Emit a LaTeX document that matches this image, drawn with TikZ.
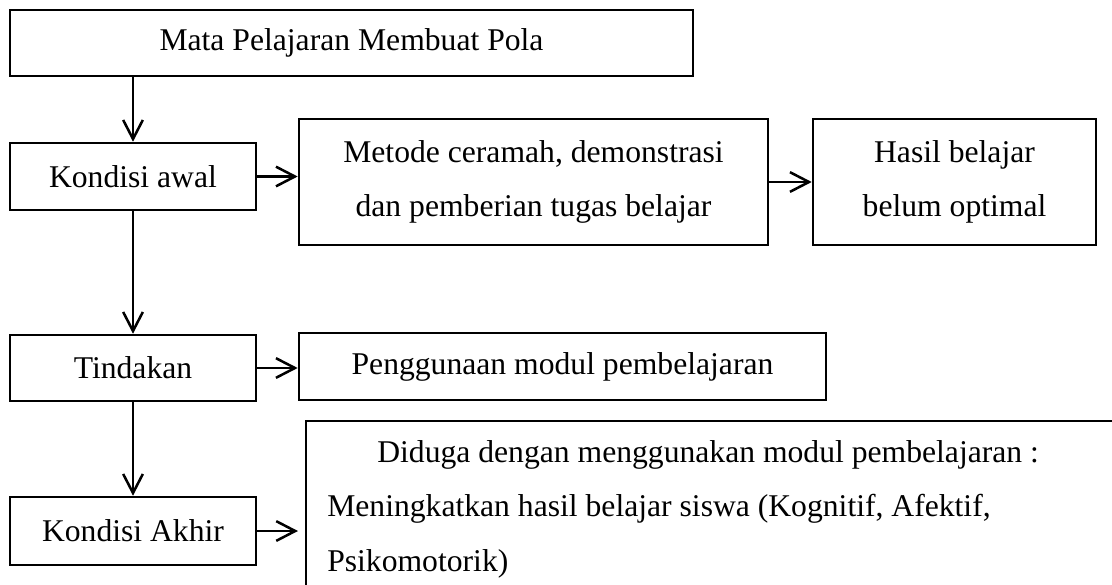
\documentclass[tikz,border=0pt]{standalone}
\usepackage{fontspec}
\setmainfont{Liberation Serif}
\usetikzlibrary{arrows.meta}

\begin{document}
\begin{tikzpicture}[x=0.025cm, y=-0.025cm,
		teks/.style={font=\fontsize{22.5}{38.8}\selectfont},
		kotak/.style={draw, line width=1.8pt, inner sep=0pt, align=center, teks},
		panah/.style={-{Straight Barb[length=13.5pt, width=14pt]}, line width=1.8pt}]
		%%%%% START %%%%%
		
		\useasboundingbox (0, 0) rectangle (1112, 585);
		
		\node[kotak, minimum width=17.075cm, minimum height=1.65cm] (judul) at (351.5, 43) {Mata Pelajaran Membuat Pola};
		
		\node[kotak, minimum width=6.15cm, minimum height=1.675cm] (awal) at (133, 176.5) {Kondisi awal};
		\node[kotak, minimum width=11.725cm, minimum height=3.15cm] (metode) at (533.5, 182) {Metode ceramah, demonstrasi\\dan pemberian tugas belajar};
		\node[kotak, minimum width=7.075cm, minimum height=3.15cm] (hasil) at (954.5, 182) {Hasil belajar\\belum optimal};
		
		\node[kotak, minimum width=6.15cm, minimum height=1.65cm] (tindakan) at (133, 368) {Tindakan};
		\node[kotak, minimum width=13.175cm, minimum height=1.675cm] (guna) at (562.5, 366.5) {Penggunaan modul pembelajaran};
		
		\node[kotak, minimum width=6.15cm, minimum height=1.7cm] (akhir) at (133, 531) {Kondisi Akhir};
		
		% kotak terbuka di kanan bawah
		\coordinate (sudut) at (306, 421);
		\draw[line width=1.8pt] (1120, 421) -- (sudut) -- (306, 595);
		\node[teks, anchor=north west, inner sep=0pt, align=left] (duga) at (327, 440)
			{\hspace*{1.25cm}Diduga dengan menggunakan modul pembelajaran :\\
			Meningkatkan hasil belajar siswa (Kognitif, Afektif,\\
			Psikomotorik)};
		
		\draw[panah] (judul.south -| awal.north) -- (awal.north);
		\draw[panah] (awal.east) -- (awal.east -| metode.west);
		\draw[panah] (metode.east) -- (metode.east -| hasil.west);
		\draw[panah] (awal.south) -- (tindakan.north);
		\draw[panah] (tindakan.east) -- (tindakan.east -| guna.west);
		\draw[panah] (tindakan.south) -- (akhir.north);
		\draw[panah, shorten >=5.7pt] (akhir.east) -- (akhir.east -| sudut);
		
		%%%%% END %%%%%
\end{tikzpicture}
\end{document}
